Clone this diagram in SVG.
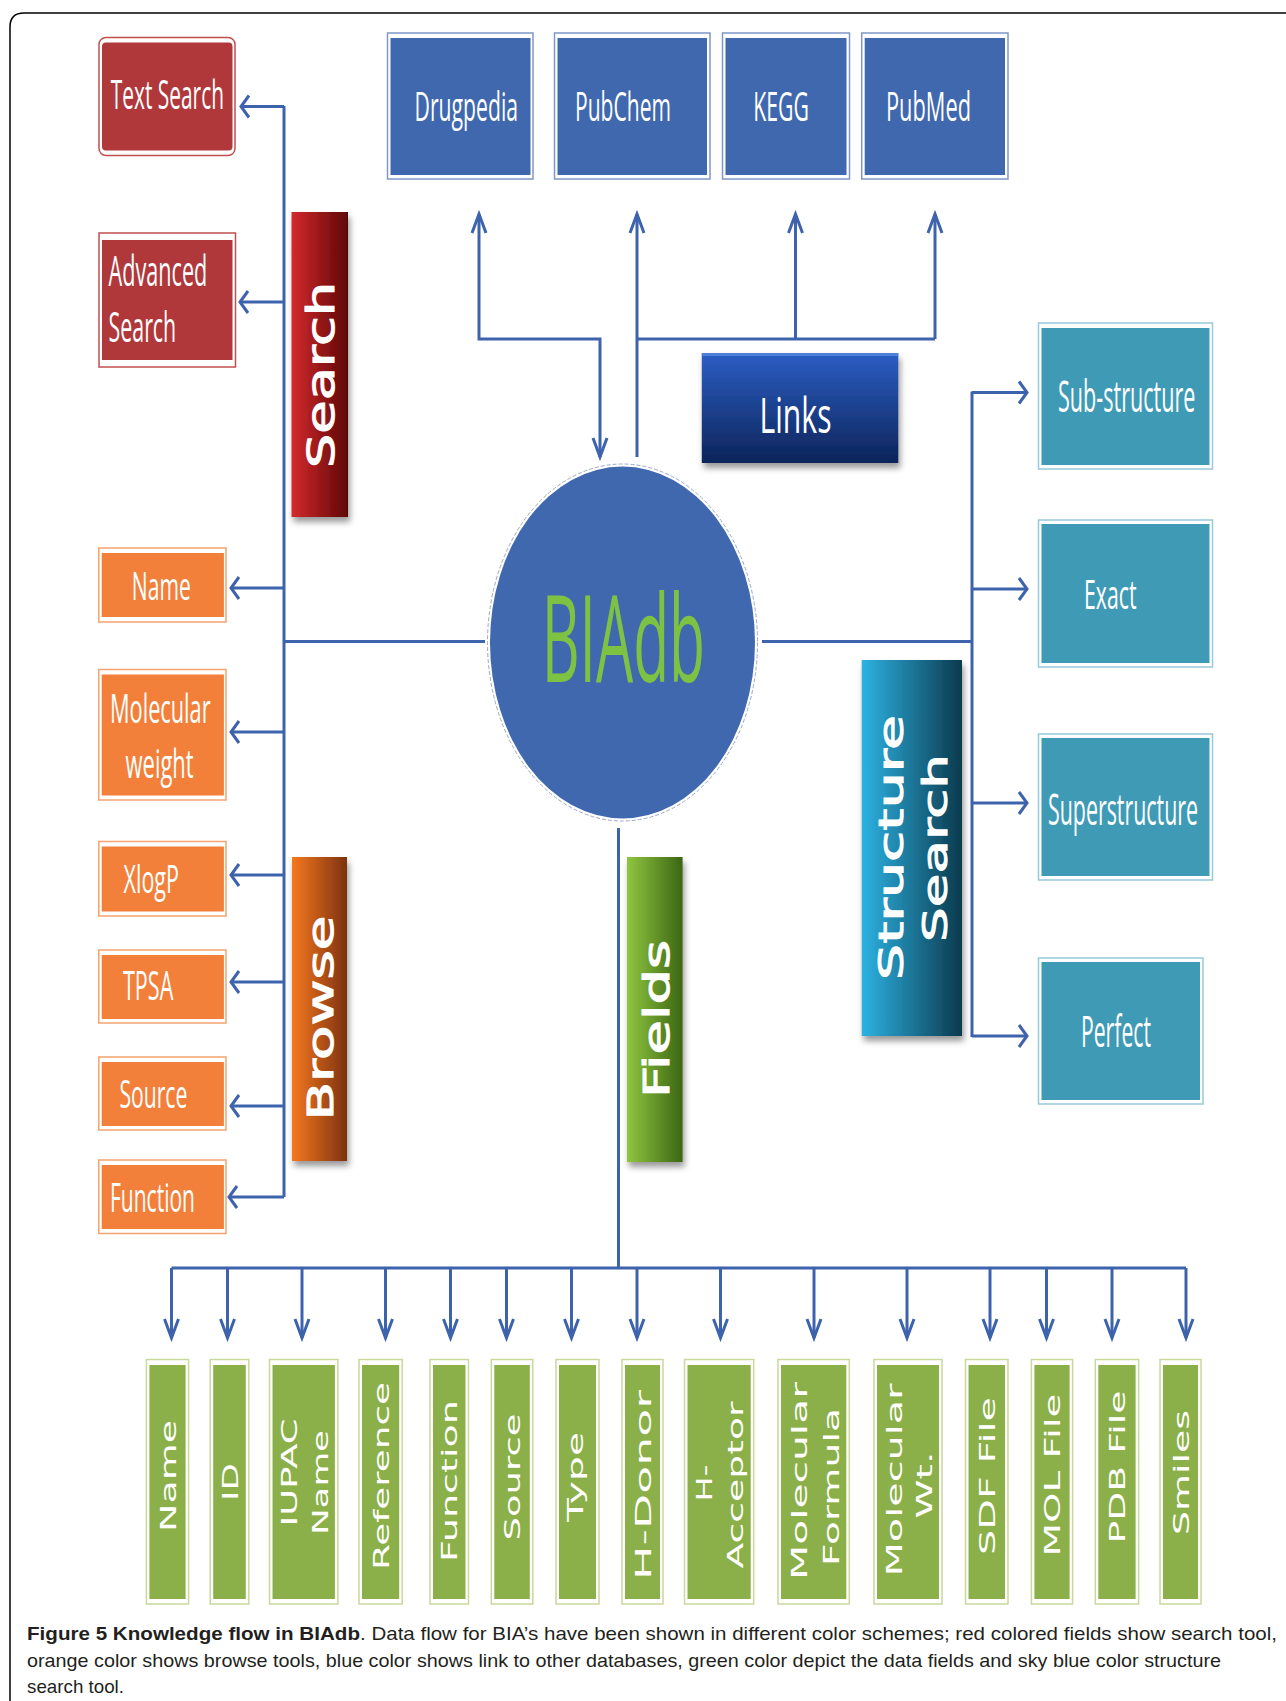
<svg xmlns="http://www.w3.org/2000/svg" width="1286" height="1701" viewBox="0 0 1286 1701">
<style>
.lbl{font-family:"Open Sans","Liberation Sans",sans-serif;fill:#fff;font-size:21px;}
.vl{font-family:"DejaVu Sans","Verdana",sans-serif;fill:#fff;font-size:22px;text-anchor:middle;}
.bar{font-family:"DejaVu Sans","Verdana",sans-serif;fill:#fff;stroke:#fff;stroke-width:1;text-anchor:middle;}
.red{fill:#b0383b;}
.redo{fill:#fff;stroke:#c0504d;stroke-width:1.5;}
.blu{fill:#4068ae;}
.bluo{fill:#fff;stroke:#7f97c6;stroke-width:1.5;}
.org{fill:#f3803a;}
.orgo{fill:#fff;stroke:#f5a36e;stroke-width:1.5;}
.tea{fill:#3f9ab5;}
.teao{fill:#fff;stroke:#96c9da;stroke-width:1.5;}
.grn{fill:#8bb04a;}
.grno{fill:#fff;stroke:#c9d99c;stroke-width:1.5;}
.c{fill:none;stroke:#3d63ad;stroke-width:3;}
.cap{font-family:"Liberation Sans","Open Sans",sans-serif;font-size:19px;fill:#231f20;}
</style>
<defs>
<marker id="ah" markerUnits="userSpaceOnUse" markerWidth="14" markerHeight="26" refX="10" refY="12" orient="auto-start-reverse" overflow="visible">
<path d="M2,1 L10,12 L2,23" fill="none" stroke="#3d63ad" stroke-width="3"/>
</marker>
<marker id="av" markerUnits="userSpaceOnUse" markerWidth="24" markerHeight="18" refX="20" refY="8" orient="auto-start-reverse" overflow="visible">
<path d="M1,1 L20,8 L1,15" fill="none" stroke="#3d63ad" stroke-width="3"/>
</marker>
<linearGradient id="gRed" x1="0" y1="0" x2="1" y2="0"><stop offset="0" stop-color="#d42a2d"/><stop offset="1" stop-color="#5e0606"/></linearGradient>
<linearGradient id="gOrg" x1="0" y1="0" x2="1" y2="0"><stop offset="0" stop-color="#f5781e"/><stop offset="1" stop-color="#7d3210"/></linearGradient>
<linearGradient id="gGrn" x1="0" y1="0" x2="1" y2="0"><stop offset="0" stop-color="#8fc63f"/><stop offset="1" stop-color="#3c6614"/></linearGradient>
<linearGradient id="gTea" x1="0" y1="0" x2="1" y2="0"><stop offset="0" stop-color="#2db2e2"/><stop offset="1" stop-color="#0b3a4e"/></linearGradient>
<linearGradient id="gBlu" x1="0" y1="0" x2="0" y2="1"><stop offset="0" stop-color="#2c5ec4"/><stop offset="1" stop-color="#0c2459"/></linearGradient>
<filter id="sh" x="-20%" y="-20%" width="140%" height="140%"><feDropShadow dx="2" dy="5" stdDeviation="3" flood-color="#000" flood-opacity="0.4"/></filter>
</defs>
<rect width="1286" height="1701" fill="#fff"/>
<path d="M10,1701 V27 Q10,13 24,13 H1286" fill="none" stroke="#000" stroke-width="1.5"/>

<g id="connectors">
<path class="c" d="M284,106 V1197"/>
<path class="c" marker-end="url(#ah)" d="M284,106.5 H241"/>
<path class="c" marker-end="url(#ah)" d="M284,302 H240"/>
<path class="c" marker-end="url(#ah)" d="M284,588 H231"/>
<path class="c" marker-end="url(#ah)" d="M284,732 H231"/>
<path class="c" marker-end="url(#ah)" d="M284,875 H231"/>
<path class="c" marker-end="url(#ah)" d="M284,982 H231"/>
<path class="c" marker-end="url(#ah)" d="M284,1106 H231"/>
<path class="c" marker-end="url(#ah)" d="M284,1197 H229"/>
<path class="c" d="M284,641.5 H485"/>
<path class="c" d="M762,641.5 H972"/>
<path class="c" d="M972,391.5 V1037"/>
<path class="c" marker-end="url(#ah)" d="M972,392.5 H1027"/>
<path class="c" marker-end="url(#ah)" d="M972,589 H1027"/>
<path class="c" marker-end="url(#ah)" d="M972,803 H1027"/>
<path class="c" marker-end="url(#ah)" d="M972,1036 H1027"/>
<path class="c" marker-start="url(#av)" marker-end="url(#av)" d="M479,214 V339 H600 V457"/>
<path class="c" marker-end="url(#av)" d="M637,457 V214"/>
<path class="c" d="M637,339 H935"/>
<path class="c" marker-end="url(#av)" d="M795.5,339 V214"/>
<path class="c" marker-end="url(#av)" d="M935,339 V214"/>
<path class="c" d="M618.5,828 V1268"/>
<path class="c" stroke-width="4" d="M171.5,1268 H1186"/>
<path class="c" marker-end="url(#av)" d="M171.5,1268 V1338"/>
<path class="c" marker-end="url(#av)" d="M227.5,1268 V1338"/>
<path class="c" marker-end="url(#av)" d="M302,1268 V1338"/>
<path class="c" marker-end="url(#av)" d="M385.5,1268 V1338"/>
<path class="c" marker-end="url(#av)" d="M450.5,1268 V1338"/>
<path class="c" marker-end="url(#av)" d="M506.5,1268 V1338"/>
<path class="c" marker-end="url(#av)" d="M571.5,1268 V1338"/>
<path class="c" marker-end="url(#av)" d="M637,1268 V1338"/>
<path class="c" marker-end="url(#av)" d="M720.5,1268 V1338"/>
<path class="c" marker-end="url(#av)" d="M814,1268 V1338"/>
<path class="c" marker-end="url(#av)" d="M907,1268 V1338"/>
<path class="c" marker-end="url(#av)" d="M990,1268 V1338"/>
<path class="c" marker-end="url(#av)" d="M1046.5,1268 V1338"/>
<path class="c" marker-end="url(#av)" d="M1112,1268 V1338"/>
<path class="c" marker-end="url(#av)" d="M1186,1268 V1338"/>
</g>

<g id="biadb">
<ellipse cx="622.5" cy="642.5" rx="135" ry="178.5" fill="none" stroke="#9aa9c6" stroke-width="1" stroke-dasharray="4 2"/>
<ellipse cx="622.5" cy="642.5" rx="132.5" ry="176" fill="#4068ae"/>
<text x="541.7" y="681.7" transform="matrix(1,0,0,2.086,0,-740.3)" font-family="Open Sans, Liberation Sans, sans-serif" font-size="58" fill="#7dc242" textLength="163.3" lengthAdjust="spacingAndGlyphs">BIAdb</text>
</g>

<g id="text-search">
<rect class="redo" x="99" y="37.5" width="136" height="118" rx="7"/>
<rect class="red" x="102" y="42.5" width="130.5" height="108" rx="4"/>
<text class="lbl" x="110.7" y="109" transform="matrix(1,0,0,1.905,0,-98.6)" textLength="113.3" lengthAdjust="spacingAndGlyphs">Text Search</text>
</g>
<g id="advanced-search">
<rect class="redo" x="99" y="233" width="136.5" height="134"/>
<rect class="red" x="102" y="240" width="130.5" height="120"/>
<text class="lbl" x="108.6" y="286" transform="matrix(1,0,0,2,0,-286)" textLength="98.7" lengthAdjust="spacingAndGlyphs">Advanced</text>
<text class="lbl" x="108.6" y="342" transform="matrix(1,0,0,2,0,-342)" textLength="67.6" lengthAdjust="spacingAndGlyphs">Search</text>
</g>
<g id="search">
<rect x="291.5" y="212" width="56.5" height="305" fill="url(#gRed)" filter="url(#sh)"/>
<text class="bar" transform="translate(334,375) rotate(-90)" font-size="37" textLength="186" lengthAdjust="spacingAndGlyphs">Search</text>
</g>

<g id="drugpedia">
<rect class="bluo" x="387.5" y="33" width="145.5" height="146"/>
<rect class="blu" x="390.5" y="38" width="140" height="137"/>
<text class="lbl" x="414.6" y="121" transform="matrix(1,0,0,1.905,0,-109.5)" textLength="103.4" lengthAdjust="spacingAndGlyphs">Drugpedia</text>
</g>
<g id="pubchem">
<rect class="bluo" x="554.5" y="33" width="155.5" height="146"/>
<rect class="blu" x="557.5" y="38" width="149.5" height="137"/>
<text class="lbl" x="575" y="121" transform="matrix(1,0,0,1.905,0,-109.5)" textLength="96" lengthAdjust="spacingAndGlyphs">PubChem</text>
</g>
<g id="kegg">
<rect class="bluo" x="722.5" y="33" width="127" height="146"/>
<rect class="blu" x="725.5" y="38" width="121" height="137"/>
<text class="lbl" x="753.3" y="121" transform="matrix(1,0,0,1.905,0,-109.5)" textLength="55.7" lengthAdjust="spacingAndGlyphs">KEGG</text>
</g>
<g id="pubmed">
<rect class="bluo" x="861.7" y="33" width="146.3" height="146"/>
<rect class="blu" x="864.7" y="38" width="140.3" height="137"/>
<text class="lbl" x="886" y="121" transform="matrix(1,0,0,1.905,0,-109.5)" textLength="85" lengthAdjust="spacingAndGlyphs">PubMed</text>
</g>
<g id="links">
<rect x="701.8" y="353" width="196.5" height="110" fill="url(#gBlu)" filter="url(#sh)"/>
<rect x="701.8" y="353" width="196.5" height="3" fill="#4f80d8"/>
<text class="lbl" x="759.5" y="433" transform="matrix(1,0,0,2.381,0,-598)" textLength="72" lengthAdjust="spacingAndGlyphs">Links</text>
</g>

<g id="sub-structure">
<rect class="teao" x="1038.5" y="323" width="174" height="146"/>
<rect class="tea" x="1041.5" y="328" width="168" height="137"/>
<text class="lbl" x="1058" y="412.5" transform="matrix(1,0,0,2.048,0,-432.3)" textLength="137.4" lengthAdjust="spacingAndGlyphs">Sub-structure</text>
</g>
<g id="exact">
<rect class="teao" x="1038.5" y="520" width="174" height="147"/>
<rect class="tea" x="1041.5" y="524" width="168" height="139"/>
<text class="lbl" x="1084" y="609" transform="matrix(1,0,0,1.952,0,-579.8)" textLength="52.5" lengthAdjust="spacingAndGlyphs">Exact</text>
</g>
<g id="superstructure">
<rect class="teao" x="1038.5" y="734" width="174" height="146"/>
<rect class="tea" x="1041.5" y="738" width="168" height="138"/>
<text class="lbl" x="1048" y="825" transform="matrix(1,0,0,2.048,0,-864.6)" textLength="150" lengthAdjust="spacingAndGlyphs">Superstructure</text>
</g>
<g id="perfect">
<rect class="teao" x="1038.5" y="958" width="164.5" height="146"/>
<rect class="tea" x="1041.5" y="962" width="158.5" height="138"/>
<text class="lbl" x="1081" y="1047" transform="matrix(1,0,0,2.048,0,-1097.3)" textLength="70" lengthAdjust="spacingAndGlyphs">Perfect</text>
</g>
<g id="structure-search">
<rect x="861.7" y="660" width="100.3" height="376" fill="url(#gTea)" filter="url(#sh)"/>
<text class="bar" transform="translate(902.5,847.5) rotate(-90)" font-size="34" textLength="265" lengthAdjust="spacingAndGlyphs">Structure</text>
<text class="bar" transform="translate(947,848) rotate(-90)" font-size="34" textLength="188" lengthAdjust="spacingAndGlyphs">Search</text>
</g>

<g id="b-name">
<rect class="orgo" x="98.8" y="548" width="127.2" height="74"/>
<rect class="org" x="101.7" y="553" width="122.2" height="64"/>
<text class="lbl" x="131.8" y="600" transform="matrix(1,0,0,1.81,0,-486)" textLength="59" lengthAdjust="spacingAndGlyphs">Name</text>
</g>
<g id="b-molecular-weight">
<rect class="orgo" x="98.8" y="669.5" width="127.2" height="130.5"/>
<rect class="org" x="101.7" y="674.5" width="122.2" height="121"/>
<text class="lbl" x="110" y="723" transform="matrix(1,0,0,1.905,0,-654.3)" textLength="100.6" lengthAdjust="spacingAndGlyphs">Molecular</text>
<text class="lbl" x="125.6" y="778" transform="matrix(1,0,0,1.905,0,-704.1)" textLength="68" lengthAdjust="spacingAndGlyphs">weight</text>
</g>
<g id="b-xlogp">
<rect class="orgo" x="98.8" y="841.5" width="127.2" height="74.5"/>
<rect class="org" x="101.7" y="846.5" width="122.2" height="65"/>
<text class="lbl" x="123.5" y="893" transform="matrix(1,0,0,1.81,0,-723.3)" textLength="55.5" lengthAdjust="spacingAndGlyphs">XlogP</text>
</g>
<g id="b-tpsa">
<rect class="orgo" x="98.8" y="950" width="127.2" height="73"/>
<rect class="org" x="101.7" y="955" width="122.2" height="64"/>
<text class="lbl" x="123" y="1000" transform="matrix(1,0,0,1.905,0,-905)" textLength="50.3" lengthAdjust="spacingAndGlyphs">TPSA</text>
</g>
<g id="b-source">
<rect class="orgo" x="98.8" y="1057" width="127.2" height="73"/>
<rect class="org" x="101.7" y="1062" width="122.2" height="64"/>
<text class="lbl" x="119.4" y="1108" transform="matrix(1,0,0,1.857,0,-949.6)" textLength="68" lengthAdjust="spacingAndGlyphs">Source</text>
</g>
<g id="b-function">
<rect class="orgo" x="98.8" y="1160" width="127.2" height="73.5"/>
<rect class="org" x="101.7" y="1165" width="122.2" height="64"/>
<text class="lbl" x="110" y="1211.7" transform="matrix(1,0,0,1.905,0,-1096.6)" textLength="85" lengthAdjust="spacingAndGlyphs">Function</text>
</g>
<g id="browse">
<rect x="292" y="857" width="55" height="304" fill="url(#gOrg)" filter="url(#sh)"/>
<text class="bar" transform="translate(333,1018) rotate(-90)" font-size="35" textLength="205" lengthAdjust="spacingAndGlyphs">Browse</text>
</g>
<g id="fields">
<rect x="627" y="857" width="55.6" height="305" fill="url(#gGrn)" filter="url(#sh)"/>
<text class="bar" transform="translate(669,1019) rotate(-90)" font-size="35" textLength="158" lengthAdjust="spacingAndGlyphs">Fields</text>
</g>

<g id="f-name"><rect class="grno" x="146.4" y="1359.5" width="42.2" height="244.5"/><rect class="grn" x="149.4" y="1365" width="36.2" height="234"/>
<text class="vl" transform="translate(175.5,1476) rotate(-90)" textLength="112" lengthAdjust="spacingAndGlyphs">Name</text></g>
<g id="f-id"><rect class="grno" x="210.2" y="1359.5" width="38.6" height="244.5"/><rect class="grn" x="213.2" y="1365" width="32.6" height="234"/>
<text class="vl" transform="translate(237.5,1482) rotate(-90)" textLength="38" lengthAdjust="spacingAndGlyphs">ID</text></g>
<g id="f-iupac"><rect class="grno" x="269.5" y="1359.5" width="68.4" height="244.5"/><rect class="grn" x="272.5" y="1365" width="62.4" height="234"/>
<text class="vl" transform="translate(297,1472.5) rotate(-90)" textLength="108" lengthAdjust="spacingAndGlyphs">IUPAC</text>
<text class="vl" transform="translate(328,1482.5) rotate(-90)" textLength="105" lengthAdjust="spacingAndGlyphs">Name</text></g>
<g id="f-reference"><rect class="grno" x="359" y="1359.5" width="43.2" height="244.5"/><rect class="grn" x="362" y="1365" width="37.2" height="234"/>
<text class="vl" transform="translate(388.6,1476) rotate(-90)" textLength="188" lengthAdjust="spacingAndGlyphs">Reference</text></g>
<g id="f-function"><rect class="grno" x="430" y="1359.5" width="38.5" height="244.5"/><rect class="grn" x="433" y="1365" width="32.5" height="234"/>
<text class="vl" transform="translate(457.2,1481) rotate(-90)" textLength="162" lengthAdjust="spacingAndGlyphs">Function</text></g>
<g id="f-source"><rect class="grno" x="491.3" y="1359.5" width="41.5" height="244.5"/><rect class="grn" x="494.3" y="1365" width="35.5" height="234"/>
<text class="vl" transform="translate(520,1477) rotate(-90)" textLength="127" lengthAdjust="spacingAndGlyphs">Source</text></g>
<g id="f-type"><rect class="grno" x="556" y="1359.5" width="43" height="244.5"/><rect class="grn" x="559" y="1365" width="37" height="234"/>
<text class="vl" transform="translate(583,1477) rotate(-90)" textLength="90" lengthAdjust="spacingAndGlyphs">Type</text></g>
<g id="f-hdonor"><rect class="grno" x="622" y="1359.5" width="41" height="244.5"/><rect class="grn" x="625" y="1365" width="35" height="234"/>
<text class="vl" transform="translate(650.5,1485) rotate(-90)" textLength="190" lengthAdjust="spacingAndGlyphs">H-Donor</text></g>
<g id="f-hacceptor"><rect class="grno" x="684.5" y="1359.5" width="69.2" height="244.5"/><rect class="grn" x="687.5" y="1365" width="63.2" height="234"/>
<text class="vl" transform="translate(711.7,1483) rotate(-90)" textLength="37" lengthAdjust="spacingAndGlyphs">H-</text>
<text class="vl" transform="translate(742.7,1485) rotate(-90)" textLength="167" lengthAdjust="spacingAndGlyphs">Acceptor</text></g>
<g id="f-molformula"><rect class="grno" x="778" y="1359.5" width="71.3" height="244.5"/><rect class="grn" x="781" y="1365" width="65.3" height="234"/>
<text class="vl" transform="translate(806.7,1481) rotate(-90)" textLength="198" lengthAdjust="spacingAndGlyphs">Molecular</text>
<text class="vl" transform="translate(839.3,1487) rotate(-90)" textLength="158" lengthAdjust="spacingAndGlyphs">Formula</text></g>
<g id="f-molwt"><rect class="grno" x="874" y="1359.5" width="68" height="244.5"/><rect class="grn" x="877" y="1365" width="62" height="234"/>
<text class="vl" transform="translate(901.7,1480) rotate(-90)" textLength="193" lengthAdjust="spacingAndGlyphs">Molecular</text>
<text class="vl" transform="translate(931.7,1485) rotate(-90)" textLength="67" lengthAdjust="spacingAndGlyphs">Wt.</text></g>
<g id="f-sdf"><rect class="grno" x="965.5" y="1359.5" width="42.5" height="244.5"/><rect class="grn" x="968.5" y="1365" width="36.5" height="234"/>
<text class="vl" transform="translate(994.8,1476) rotate(-90)" textLength="158" lengthAdjust="spacingAndGlyphs">SDF File</text></g>
<g id="f-mol"><rect class="grno" x="1031.4" y="1359.5" width="41.2" height="244.5"/><rect class="grn" x="1034.4" y="1365" width="35.2" height="234"/>
<text class="vl" transform="translate(1060,1475) rotate(-90)" textLength="163" lengthAdjust="spacingAndGlyphs">MOL File</text></g>
<g id="f-pdb"><rect class="grno" x="1095.3" y="1359.5" width="43.3" height="244.5"/><rect class="grn" x="1098.3" y="1365" width="37.3" height="234"/>
<text class="vl" transform="translate(1125,1467) rotate(-90)" textLength="153" lengthAdjust="spacingAndGlyphs">PDB File</text></g>
<g id="f-smiles"><rect class="grno" x="1160" y="1359.5" width="41" height="244.5"/><rect class="grn" x="1163" y="1365" width="35" height="234"/>
<text class="vl" transform="translate(1188.5,1472.5) rotate(-90)" textLength="125" lengthAdjust="spacingAndGlyphs">Smiles</text></g>

<g id="caption">
<text class="cap" x="27" y="1640" font-weight="bold" textLength="333" lengthAdjust="spacingAndGlyphs">Figure 5 Knowledge flow in BIAdb</text>
<text class="cap" x="360" y="1640" textLength="917" lengthAdjust="spacingAndGlyphs">. Data flow for BIA’s have been shown in different color schemes; red colored fields show search tool,</text>
<text class="cap" x="27" y="1667" textLength="1194" lengthAdjust="spacingAndGlyphs">orange color shows browse tools, blue color shows link to other databases, green color depict the data fields and sky blue color structure</text>
<text class="cap" x="27" y="1693" textLength="97" lengthAdjust="spacingAndGlyphs">search tool.</text>
</g>
</svg>
